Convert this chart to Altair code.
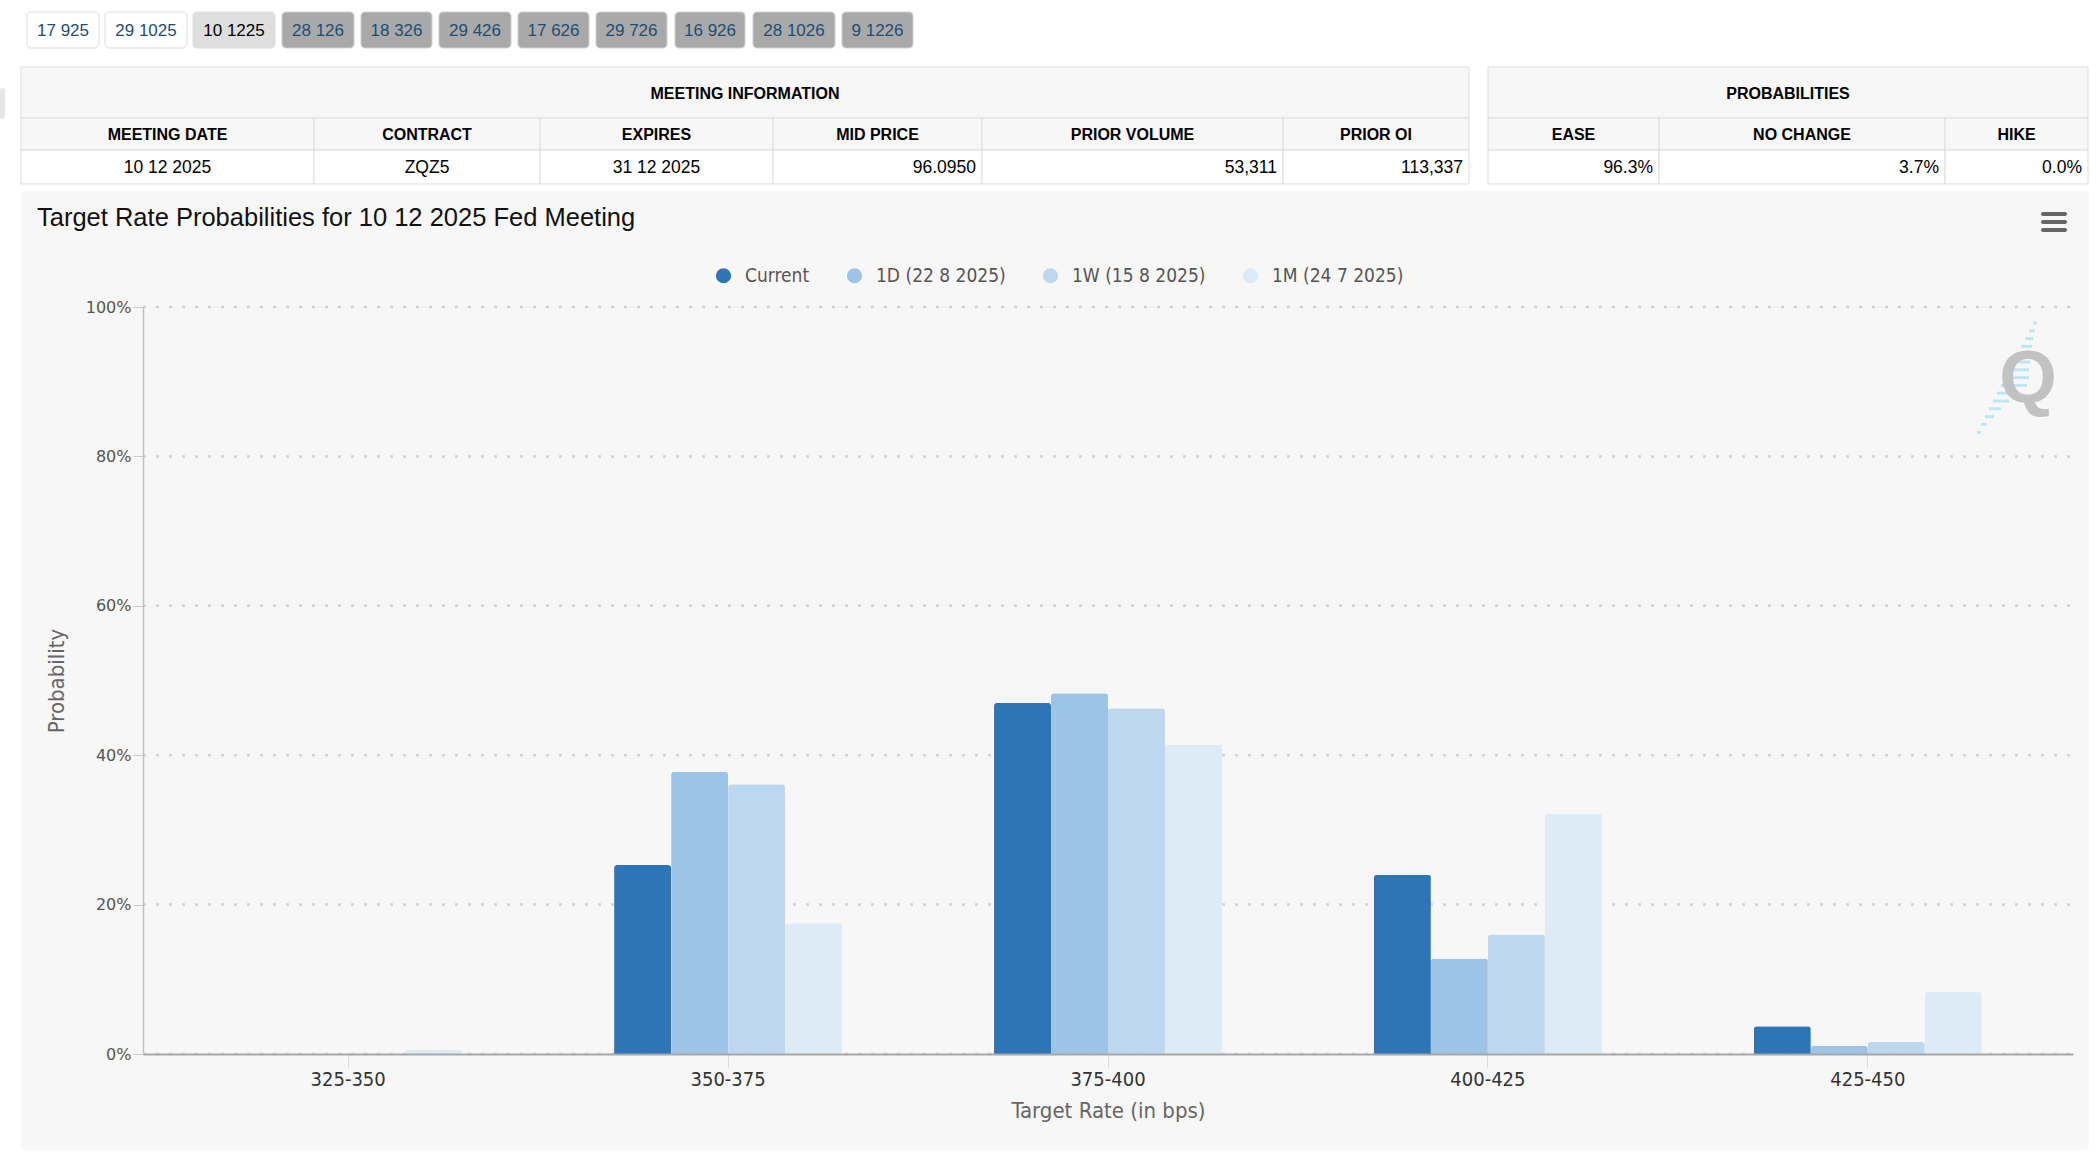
import altair as alt
import pandas as pd

# ---------------- data ----------------
categories = ["325-350", "350-375", "375-400", "400-425", "425-450"]
series = ["Current", "1D (22 8 2025)", "1W (15 8 2025)", "1M (24 7 2025)"]
current = [0.0, 25.3, 47.0, 24.0, 3.7]
one_day = [0.0, 37.8, 48.3, 12.8, 1.1]
one_week = [0.0, 36.1, 46.3, 16.0, 1.6]
one_month = [0.6, 17.5, 41.4, 32.2, 8.3]
series_colors = ["#2e75b6", "#9dc3e6", "#bdd7ee", "#ddebf7"]
y_ticks = [0.0, 0.2, 0.4, 0.6, 0.8, 1.0]

buttons = ["17 925", "29 1025", "10 1225", "28 126", "18 326", "29 426",
           "17 626", "29 726", "16 926", "28 1026", "9 1226"]
button_state = ["plain", "plain", "selected", "off", "off", "off",
                "off", "off", "off", "off", "off"]

meeting_title = "MEETING INFORMATION"
meeting_headers = ["MEETING DATE", "CONTRACT", "EXPIRES", "MID PRICE", "PRIOR VOLUME", "PRIOR OI"]
meeting_values = ["10 12 2025", "ZQZ5", "31 12 2025", "96.0950", "53,311", "113,337"]
meeting_align = ["center", "center", "center", "right", "right", "right"]
prob_title = "PROBABILITIES"
prob_headers = ["EASE", "NO CHANGE", "HIKE"]
prob_values = ["96.3%", "3.7%", "0.0%"]

chart_title = "Target Rate Probabilities for 10 12 2025 Fed Meeting"

# ---------------- layout (page pixels) ----------------
PAGE_W, PAGE_H = 2096, 1162
OX, OY = 143, 307          # plot-area origin on the page
W, H = 1930, 747           # plot-area size

def rx(v):
    return v - OX

def ry(v):
    return v - OY

NARROW = "'Liberation Sans Narrow', 'DejaVu Sans Condensed', 'Roboto Condensed', 'Arial Narrow', sans-serif"
SANS = "'Liberation Sans', Arial, sans-serif"

btn_edges = [(27, 99), (105, 187), (193, 275), (282, 354), (361, 432), (439, 511),
             (518, 589), (596, 667), (675, 745), (753, 835), (842, 913)]
BTN_Y0, BTN_Y1 = 12, 48
btn_fill = {"plain": "#ffffff", "selected": "#dedede", "off": "#a9a9a9"}
btn_stroke = {"plain": "#dddddd", "selected": "#dddddd", "off": "#cfcfcf"}
btn_text = {"plain": "#1f4d73", "selected": "#000000", "off": "#1f4d73"}

meet_cols = [21, 314, 540, 773, 982, 1283, 1469]
prob_cols = [1488, 1659, 1945, 2088]
rows = [67, 118, 150, 184]

# ---------------- decoration tables ----------------
page_df = pd.DataFrame([dict(x=rx(0), x2=rx(PAGE_W), y=ry(0), y2=ry(PAGE_H), fill="#ffffff", stroke="#ffffff")])
panel_df = pd.DataFrame([dict(x=rx(21), x2=rx(2089), y=ry(191), y2=ry(1150), fill="#f7f7f7", stroke="#f7f7f7")])
tab_df = pd.DataFrame([dict(x=rx(0), x2=rx(5), y=ry(88), y2=ry(119), fill="#e6e6e6", stroke="#e6e6e6")])

btn_df = pd.DataFrame([
    dict(x=rx(a), x2=rx(b), y=ry(BTN_Y0), y2=ry(BTN_Y1), fill=btn_fill[s], stroke=btn_stroke[s],
         t=lab, cx=rx((a + b) / 2), cy=ry((BTN_Y0 + BTN_Y1) / 2 + 1), c=btn_text[s])
    for (a, b), lab, s in zip(btn_edges, buttons, button_state)
])

cells = []
texts_bold = []
texts_center = []
texts_right = []
for cols, title, headers, values, aligns in [
    (meet_cols, meeting_title, meeting_headers, meeting_values, meeting_align),
    (prob_cols, prob_title, prob_headers, prob_values, ["right"] * 3),
]:
    cells.append(dict(x=rx(cols[0]), x2=rx(cols[-1]), y=ry(rows[0]), y2=ry(rows[1]), fill="#f7f7f7", stroke="#dddddd"))
    texts_bold.append(dict(t=title, x=rx((cols[0] + cols[-1]) / 2), y=ry((rows[0] + rows[1]) / 2 + 1)))
    for i in range(len(headers)):
        a, b = cols[i], cols[i + 1]
        cells.append(dict(x=rx(a), x2=rx(b), y=ry(rows[1]), y2=ry(rows[2]), fill="#f7f7f7", stroke="#dddddd"))
        cells.append(dict(x=rx(a), x2=rx(b), y=ry(rows[2]), y2=ry(rows[3]), fill="#ffffff", stroke="#dddddd"))
        texts_bold.append(dict(t=headers[i], x=rx((a + b) / 2), y=ry((rows[1] + rows[2]) / 2 + 1)))
        if aligns[i] == "center":
            texts_center.append(dict(t=values[i], x=rx((a + b) / 2), y=ry((rows[2] + rows[3]) / 2 + 1)))
        else:
            texts_right.append(dict(t=values[i], x=rx(b - 6), y=ry((rows[2] + rows[3]) / 2 + 1)))
cells_df = pd.DataFrame(cells)
bold_df = pd.DataFrame(texts_bold)
center_df = pd.DataFrame(texts_center)
right_df = pd.DataFrame(texts_right)

title_df = pd.DataFrame([dict(t=chart_title, x=rx(37), y=ry(218))])
menu_df = pd.DataFrame([dict(x=rx(2041), x2=rx(2067), y=ry(yc - 2), y2=ry(yc + 2), fill="#666666", stroke="#666666")
                        for yc in (214, 222, 230)])
logo_df = pd.DataFrame([dict(t="Q", x=rx(2028), y=ry(402))])
streak_lengths = [4, 6, 8, 11, 14, 17, 20, 24, 26, 22, 16, 12, 9, 6, 4]
streak_rows = []
for i, ln in enumerate(streak_lengths):
    yc = 323 + i * 7.8
    xl = 2033 - i * 4.0
    streak_rows.append(dict(x=rx(xl), x2=rx(xl + ln), y=ry(yc)))
streak_df = pd.DataFrame(streak_rows)


def px_x(f):
    return alt.X(f + ":Q", scale=None, axis=None)


def px_y(f):
    return alt.Y(f + ":Q", scale=None, axis=None)


def rect_layer(df, radius=0, sw=1):
    return alt.Chart(df).mark_rect(cornerRadius=radius, strokeWidth=sw).encode(
        x=px_x("x"), x2="x2:Q", y=px_y("y"), y2="y2:Q",
        fill=alt.Fill("fill:N", scale=None), stroke=alt.Stroke("stroke:N", scale=None))


def text_layer(df, align, size, weight="normal", font=SANS, color="#000000"):
    return alt.Chart(df).mark_text(align=align, baseline="middle", fontSize=size,
                                   fontWeight=weight, font=font, color=color).encode(
        x=px_x("x"), y=px_y("y"), text="t:N")


page = rect_layer(page_df, 0, 0)
panel = rect_layer(panel_df, 5, 0)
tab = rect_layer(tab_df, 2, 0)
btn_rects = rect_layer(btn_df, 4, 1)
btn_texts = alt.Chart(btn_df).mark_text(align="center", baseline="middle", fontSize=17, font=SANS).encode(
    x=px_x("cx"), y=px_y("cy"), text="t:N", color=alt.Color("c:N", scale=None))
table_cells = rect_layer(cells_df, 0, 1)
bold_texts = text_layer(bold_df, "center", 16, "bold")
center_texts = text_layer(center_df, "center", 17.5)
right_texts = text_layer(right_df, "right", 17.5)
title_text = text_layer(title_df, "left", 25.5, color="#111111")
menu = rect_layer(menu_df, 2, 0)
logo = alt.Chart(logo_df).mark_text(align="center", baseline="alphabetic", fontSize=74, fontWeight="bold",
                                     font=SANS, color="#c2c2c2").encode(x=px_x("x"), y=px_y("y"), text="t:N")
streaks = alt.Chart(streak_df).mark_rule(color="#bfe6f6", strokeWidth=3).encode(
    x=px_x("x"), x2="x2:Q", y=px_y("y"))

# ---------------- chart data ----------------
records = []
for s, vals in zip(series, [current, one_day, one_week, one_month]):
    for c, v in zip(categories, vals):
        records.append({"rate": c, "series": s, "p": v / 100.0})
bars_df = pd.DataFrame(records)
grid_df = pd.DataFrame({"v": y_ticks})

grid = alt.Chart(grid_df).mark_rule(color="#d3d3d3", strokeWidth=2.5, strokeDash=[3, 10]).encode(
    y=alt.Y("v:Q", scale=alt.Scale(domain=[0, 1]), axis=None),
    x=alt.value(0), x2=alt.value(W))

bars = alt.Chart(bars_df).mark_bar(cornerRadiusTopLeft=3, cornerRadiusTopRight=3).encode(
    x=alt.X("rate:N", sort=categories,
            scale=alt.Scale(paddingInner=0.4, paddingOuter=0.24),
            axis=alt.Axis(title="Target Rate (in bps)", labelAngle=0, zindex=1,
                          domainColor="#a8a8a8", domainWidth=2,
                          tickColor="#dcdcdc", tickSize=14, tickWidth=1,
                          labelPadding=1, labelFont=NARROW, labelFontSize=20, labelColor="#333333",
                          titleFont=NARROW, titleFontSize=22, titleFontWeight="normal",
                          titleColor="#666666", titleY=63, titleBaseline="alphabetic")),
    xOffset=alt.XOffset("series:N", sort=series, scale=alt.Scale(paddingInner=0, paddingOuter=0)),
    y=alt.Y("p:Q", scale=alt.Scale(domain=[0, 1]),
            axis=alt.Axis(values=y_ticks, format=".0%", grid=False, zindex=1, title="Probability",
                          domainColor="#c0c0c0", domainWidth=1.5,
                          tickColor="#cccccc", tickSize=10, tickWidth=1,
                          labelPadding=2, labelFont="DejaVu Sans", labelFontSize=16, labelColor="#555555",
                          titleFont=NARROW, titleFontSize=22, titleFontWeight="normal", titleColor="#666666",
                          titleAngle=270, titleX=-80, titleY=H / 2, titleBaseline="alphabetic",
                          titleAlign="center")),
    color=alt.Color("series:N", sort=series,
                    scale=alt.Scale(domain=series, range=series_colors),
                    legend=alt.Legend(title=None, orient="none", legendX=571, legendY=-41,
                                      direction="horizontal", symbolType="circle", symbolSize=230,
                                      symbolStrokeWidth=0, symbolOpacity=1,
                                      labelFont=NARROW, labelFontSize=19, labelColor="#555555",
                                      labelOffset=12, columnPadding=35, padding=0, labelLimit=400)),
)

chart = alt.layer(
    page, panel, tab, btn_rects, btn_texts, table_cells, bold_texts, center_texts, right_texts,
    title_text, menu, streaks, logo, grid, bars
).resolve_scale(
    x="independent", y="independent", color="independent", fill="independent", stroke="independent"
).properties(
    width=W, height=H, padding=0
).configure_view(stroke=None).configure(background="#ffffff")

chart.save("out.html", embed_options={"renderer": "svg", "actions": False})
